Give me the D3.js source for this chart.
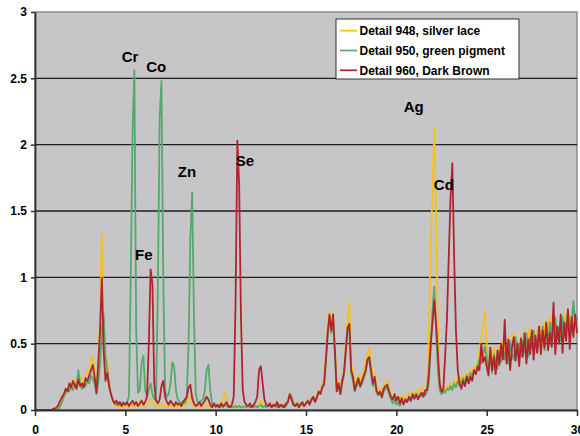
<!DOCTYPE html>
<html>
<head>
<meta charset="utf-8">
<script src="https://cdn.jsdelivr.net/npm/d3@7"></script>
<style>
    body { margin: 0; background: #fff; }
    svg { display: block; font-family: "Liberation Sans", Arial, sans-serif; }
</style>
</head>
<body>
<div id="chart"></div>
<script>
// spectra, one value every 0.1 keV starting at 0 keV
var energyStart = 0;
var energyStep = 0.1;

var seriesNames = [ 'Detail 948, silver lace', 'Detail 950, green pigment', 'Detail 960, Dark Brown' ];
var seriesColors = [ '#f5c21b', '#55a96c', '#b2232e' ];

var silverLace = [
    0,0,0,0,0,0,0,0,0,0,
    0,0,0.01,0.02,0.05,0.08,0.11,0.14,0.17,0.16,
    0.2,0.18,0.23,0.21,0.19,0.25,0.22,0.2,0.26,0.3,
    0.28,0.38,0.4,0.28,0.15,0.32,0.7,1.33,0.6,0.3,
    0.38,0.22,0.13,0.07,0.04,0.03,0.02,0.04,0.02,0.03,
    0.02,0.03,0.02,0.04,0.03,0.02,0.03,0.05,0.04,0.08,
    0.03,0.02,0.04,0.06,0.09,0.05,0.03,0.02,0.04,0.03,
    0.05,0.04,0.02,0.03,0.02,0.04,0.03,0.02,0.03,0.02,
    0.03,0.02,0.04,0.03,0.05,0.08,0.1,0.05,0.03,0.02,
    0.03,0.02,0.04,0.02,0.03,0.04,0.03,0.02,0.03,0.02,
    0.03,0.02,0.04,0.03,0.08,0.13,0.09,0.04,0.02,0.03,
    0.02,0.03,0.02,0.04,0.02,0.03,0.02,0.03,0.02,0.04,
    0.03,0.02,0.04,0.03,0.05,0.07,0.04,0.03,0.02,0.03,
    0.04,0.02,0.03,0.05,0.03,0.04,0.02,0.03,0.05,0.04,
    0.07,0.13,0.09,0.05,0.03,0.04,0.06,0.03,0.05,0.04,
    0.06,0.05,0.08,0.07,0.1,0.08,0.12,0.15,0.13,0.2,
    0.22,0.42,0.62,0.74,0.62,0.7,0.48,0.18,0.22,0.15,
    0.25,0.3,0.5,0.7,0.81,0.35,0.28,0.18,0.22,0.26,
    0.2,0.25,0.3,0.35,0.42,0.47,0.35,0.24,0.28,0.17,
    0.14,0.16,0.12,0.18,0.2,0.22,0.16,0.12,0.06,0.1,
    0.09,0.08,0.1,0.07,0.11,0.09,0.12,0.1,0.13,0.11,
    0.14,0.12,0.15,0.13,0.17,0.15,0.12,0.15,0.6,1.2,
    1.66,2.12,1.5,0.55,0.22,0.15,0.17,0.14,0.18,0.16,
    0.2,0.17,0.22,0.19,0.24,0.2,0.26,0.22,0.25,0.28,
    0.24,0.3,0.27,0.33,0.3,0.36,0.45,0.55,0.62,0.75,
    0.5,0.34,0.44,0.32,0.47,0.38,0.33,0.49,0.4,0.52,
    0.43,0.36,0.55,0.42,0.5,0.58,0.4,0.52,0.44,0.56,
    0.46,0.6,0.42,0.54,0.62,0.48,0.58,0.45,0.6,0.5,
    0.62,0.48,0.66,0.53,0.6,0.7,0.57,0.72,0.53,0.64,
    0.56,0.7,0.58,0.74,0.54,0.66,0.71,0.58,0.75,0.6,
    0.65
];

var greenPigment = [
    0,0,0,0,0,0,0,0,0,0,
    0,0,0,0.01,0.03,0.06,0.1,0.13,0.16,0.14,
    0.18,0.15,0.2,0.17,0.3,0.19,0.16,0.2,0.18,0.22,
    0.2,0.26,0.24,0.2,0.12,0.2,0.35,0.6,0.72,0.4,
    0.3,0.2,0.12,0.07,0.05,0.04,0.06,0.04,0.05,0.06,
    0.04,0.06,0.1,1.0,2.1,2.56,0.6,0.13,0.15,0.35,
    0.41,0.15,0.1,0.15,0.2,0.12,0.08,0.12,0.9,2.2,
    2.48,1.0,0.15,0.1,0.12,0.2,0.36,0.33,0.15,0.08,
    0.06,0.05,0.07,0.05,0.1,0.5,1.3,1.64,0.7,0.12,
    0.06,0.05,0.07,0.08,0.15,0.3,0.34,0.15,0.05,0.03,
    0.02,0.03,0.02,0.03,0.02,0.04,0.03,0.02,0.03,0.02,
    0.02,0.03,0.02,0.03,0.02,0.02,0.03,0.02,0.03,0.02,
    0.03,0.02,0.03,0.02,0.03,0.04,0.02,0.03,0.02,0.03,
    0.03,0.02,0.04,0.03,0.02,0.04,0.03,0.02,0.04,0.03,
    0.06,0.12,0.1,0.05,0.03,0.04,0.03,0.05,0.04,0.03,
    0.05,0.06,0.05,0.07,0.09,0.07,0.1,0.13,0.12,0.18,
    0.2,0.36,0.55,0.7,0.58,0.68,0.4,0.16,0.18,0.12,
    0.2,0.26,0.42,0.6,0.62,0.28,0.22,0.14,0.18,0.22,
    0.17,0.2,0.24,0.28,0.36,0.38,0.28,0.18,0.22,0.13,
    0.11,0.13,0.09,0.14,0.16,0.17,0.12,0.08,0.05,0.08,
    0.04,0.06,0.03,0.07,0.05,0.08,0.06,0.09,0.07,0.1,
    0.08,0.11,0.09,0.12,0.1,0.13,0.11,0.14,0.2,0.45,
    0.75,0.93,0.6,0.3,0.15,0.12,0.14,0.13,0.16,0.15,
    0.18,0.15,0.2,0.17,0.22,0.18,0.21,0.24,0.2,0.26,
    0.22,0.28,0.25,0.3,0.27,0.33,0.38,0.35,0.42,0.48,
    0.4,0.3,0.4,0.28,0.42,0.35,0.31,0.44,0.36,0.47,
    0.38,0.48,0.35,0.52,0.42,0.38,0.55,0.43,0.5,0.4,
    0.52,0.43,0.58,0.4,0.55,0.46,0.6,0.48,0.44,0.6,
    0.5,0.63,0.45,0.6,0.52,0.66,0.47,0.62,0.7,0.54,
    0.62,0.52,0.7,0.56,0.64,0.74,0.55,0.66,0.82,0.64,
    0.7
];

var darkBrown = [
    0,0,0,0,0,0,0,0,0,0,
    0.01,0.01,0.02,0.04,0.07,0.1,0.12,0.16,0.14,0.2,
    0.17,0.22,0.19,0.16,0.23,0.18,0.2,0.17,0.24,0.22,
    0.26,0.3,0.34,0.25,0.13,0.35,0.6,1.0,0.45,0.22,
    0.28,0.18,0.12,0.08,0.05,0.07,0.04,0.06,0.03,0.05,
    0.04,0.06,0.03,0.05,0.07,0.04,0.06,0.03,0.05,0.07,
    0.04,0.06,0.1,0.5,1.06,0.95,0.2,0.07,0.05,0.08,
    0.18,0.22,0.1,0.06,0.04,0.07,0.05,0.03,0.06,0.04,
    0.05,0.03,0.06,0.08,0.1,0.17,0.19,0.09,0.05,0.03,
    0.04,0.06,0.03,0.05,0.07,0.1,0.08,0.04,0.02,0.05,
    0.03,0.04,0.02,0.05,0.03,0.04,0.06,0.03,0.02,0.04,
    0.1,0.8,2.03,1.7,0.7,0.15,0.06,0.04,0.03,0.05,
    0.02,0.04,0.06,0.1,0.3,0.33,0.2,0.08,0.04,0.03,
    0.05,0.02,0.04,0.03,0.06,0.02,0.04,0.03,0.02,0.05,
    0.06,0.12,0.08,0.04,0.03,0.05,0.02,0.04,0.06,0.03,
    0.05,0.07,0.04,0.08,0.1,0.06,0.09,0.14,0.12,0.17,
    0.19,0.38,0.58,0.72,0.6,0.72,0.45,0.14,0.2,0.12,
    0.22,0.28,0.45,0.62,0.65,0.3,0.25,0.15,0.2,0.24,
    0.18,0.22,0.26,0.3,0.38,0.4,0.3,0.2,0.25,0.15,
    0.12,0.14,0.1,0.16,0.18,0.19,0.14,0.1,0.08,0.12,
    0.07,0.1,0.05,0.09,0.04,0.08,0.06,0.1,0.07,0.12,
    0.09,0.12,0.08,0.11,0.13,0.1,0.15,0.15,0.28,0.5,
    0.65,0.83,0.65,0.43,0.2,0.14,0.15,0.4,0.68,1.15,
    1.6,1.86,1.15,0.6,0.3,0.2,0.16,0.22,0.18,0.25,
    0.2,0.25,0.22,0.3,0.27,0.33,0.3,0.5,0.36,0.4,
    0.33,0.26,0.47,0.3,0.4,0.27,0.45,0.34,0.5,0.38,
    0.68,0.35,0.53,0.3,0.47,0.55,0.37,0.5,0.33,0.54,
    0.4,0.58,0.35,0.53,0.42,0.6,0.38,0.56,0.43,0.63,
    0.42,0.6,0.47,0.66,0.45,0.58,0.48,0.81,0.42,0.63,
    0.5,0.72,0.43,0.66,0.52,0.76,0.46,0.7,0.55,0.72,
    0.58
];

var xTicks = [ 0, 5, 10, 15, 20, 25, 30 ];
var yTicks = [ 0, 0.5, 1, 1.5, 2, 2.5, 3 ];

// element labels, anchored in keV / intensity units
var peakLabels = [ 'Cr', 'Co', 'Fe', 'Zn', 'Se', 'Ag', 'Cd' ];
var peakLabelEnergy = [ 5.26, 6.71, 6.02, 8.41, 11.62, 20.96, 22.63 ];
var peakLabelValue = [ 2.62, 2.545, 1.13, 1.755, 1.84, 2.245, 1.655 ];

function createSpectrum( containerSelector, width, height ){
    var left = 35, right = 577, top = 12, bottom = 410;

    var svg = d3.select( containerSelector ).append( 'svg' )
        .attr( 'width', width ).attr( 'height', height );

    var x = d3.scaleLinear().domain( [ 0, 30 ] ).range( [ left, right ] );
    var y = d3.scaleLinear().domain( [ 0, 3 ] ).range( [ bottom, top ] );

    svg.append( 'rect' )
        .attr( 'x', left ).attr( 'y', top )
        .attr( 'width', right - left ).attr( 'height', bottom - top )
        .attr( 'fill', '#c6c6c8' )
        .attr( 'stroke', '#8a8a8a' )
        .attr( 'stroke-width', 1.5 );

    // gridlines
    svg.append( 'g' ).selectAll( 'line' )
        .data( yTicks.filter( function( d ){ return d > 0 && d < 3; } ) )
        .enter().append( 'line' )
        .attr( 'x1', left ).attr( 'x2', right )
        .attr( 'y1', function( d ){ return y( d ); } )
        .attr( 'y2', function( d ){ return y( d ); } )
        .attr( 'stroke', '#1e1e1e' )
        .attr( 'stroke-width', 1.3 );

    var line = d3.line()
        .x( function( d, i ){ return x( energyStart + i * energyStep ); } )
        .y( function( d ){ return y( d ); } );

    var spectra = [ silverLace, greenPigment, darkBrown ];

    svg.append( 'g' ).selectAll( 'path' )
        .data( spectra )
        .enter().append( 'path' )
        .attr( 'd', line )
        .attr( 'fill', 'none' )
        .attr( 'stroke', function( d, i ){ return seriesColors[ i ]; } )
        .attr( 'stroke-width', 1.8 )
        .attr( 'stroke-linejoin', 'round' );

    var xAxis = d3.axisBottom( x ).tickValues( xTicks ).tickSize( 6 ).tickSizeOuter( 0 ).tickPadding( 9 );
    var yAxis = d3.axisLeft( y ).tickValues( yTicks ).tickSize( 4 ).tickSizeOuter( 0 ).tickPadding( 4 )
        .tickFormat( function( d ){ return String( d ); } );

    var gx = svg.append( 'g' )
        .attr( 'transform', 'translate(0,' + bottom + ')' )
        .call( xAxis );
    var gy = svg.append( 'g' )
        .attr( 'transform', 'translate(' + left + ',0)' )
        .call( yAxis );

    [ gx, gy ].forEach( function( g ){
        g.select( '.domain' ).attr( 'stroke', '#303030' ).attr( 'stroke-width', 1.8 );
        g.selectAll( '.tick line' ).attr( 'stroke', '#303030' ).attr( 'stroke-width', 1.5 );
        g.selectAll( '.tick text' )
            .attr( 'fill', '#000' )
            .style( 'font-size', '12px' )
            .style( 'font-weight', 'bold' )
            .style( 'font-family', '"Liberation Sans", Arial, sans-serif' );
    });

    // element labels
    svg.append( 'g' ).selectAll( 'text' )
        .data( peakLabels )
        .enter().append( 'text' )
        .attr( 'x', function( d, i ){ return x( peakLabelEnergy[ i ] ); } )
        .attr( 'y', function( d, i ){ return y( peakLabelValue[ i ] ); } )
        .attr( 'text-anchor', 'middle' )
        .style( 'font-size', '15px' )
        .style( 'font-weight', 'bold' )
        .text( function( d ){ return d; } );

    // legend
    var legend = svg.append( 'g' ).attr( 'transform', 'translate(336,19)' );
    legend.append( 'rect' )
        .attr( 'width', 183 ).attr( 'height', 60 )
        .attr( 'fill', '#fff' )
        .attr( 'stroke', '#333' )
        .attr( 'stroke-width', 1 );

    var rows = legend.selectAll( '.legend' )
        .data( seriesNames )
        .enter().append( 'g' )
        .attr( 'class', 'legend' )
        .attr( 'transform', function( d, i ){ return 'translate(0,' + ( 11.7 + i * 19.8 ) + ')'; } );

    rows.append( 'line' )
        .attr( 'x1', 4 ).attr( 'x2', 21 )
        .attr( 'stroke', function( d, i ){ return seriesColors[ i ]; } )
        .attr( 'stroke-width', 1.7 );

    rows.append( 'text' )
        .attr( 'x', 23.5 )
        .attr( 'y', 4.5 )
        .style( 'font-size', '12px' )
        .style( 'font-weight', 'bold' )
        .text( function( d ){ return d; } );
}

createSpectrum( '#chart', 580, 436 );
</script>
</body>
</html>
